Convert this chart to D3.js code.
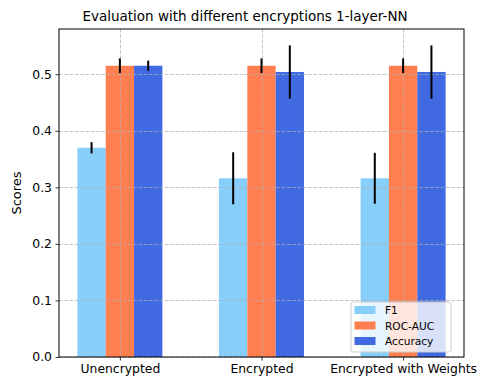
<!DOCTYPE html>
<html><head><meta charset="utf-8">
<script src="https://cdn.jsdelivr.net/npm/d3@7"></script>
<style>body{margin:0;background:#fff}text{font-family:"DejaVu Sans",sans-serif}</style>
</head><body><svg id="c" width="487" height="390"></svg>
<script>
const categories = ["Unencrypted", "Encrypted", "Encrypted with Weights"];
const seriesNames = ["F1", "ROC-AUC", "Accuracy"];
const seriesColors = ["#87CEFA", "#FF7F50", "#4169E1"];
const f1 = [0.370, 0.316, 0.316];
const f1Err = [0.010, 0.046, 0.045];
const rocAuc = [0.515, 0.515, 0.515];
const rocAucErr = [0.013, 0.013, 0.013];
const accuracy = [0.515, 0.504, 0.504];
const accuracyErr = [0.009, 0.047, 0.047];
const yTicks = [0.0, 0.1, 0.2, 0.3, 0.4, 0.5];
const title = "Evaluation with different encryptions 1-layer-NN";
const yLabel = "Scores";

const values = [f1, rocAuc, accuracy];
const errs = [f1Err, rocAucErr, accuracyErr];
const svg = d3.select("#c");
const m = {l: 59, r: 464, t: 29, b: 357};
const x = d3.scaleLinear().domain([-0.43, 2.43]).range([m.l, m.r]);
const y = d3.scaleLinear().domain([0, 0.58]).range([m.b, m.t]);
const bw = 0.2;
const offsets = [-0.2, 0, 0.2];

// bars
seriesNames.forEach((s, si) => {
  svg.append("g").selectAll("rect").data(values[si]).join("rect")
    .attr("x", (d, i) => x(i + offsets[si] - bw / 2))
    .attr("width", (d, i) => x(i + offsets[si] + bw / 2) - x(i + offsets[si] - bw / 2))
    .attr("y", d => y(d)).attr("height", d => y(0) - y(d))
    .attr("fill", seriesColors[si]);
});
// grid
const grid = svg.append("g").attr("stroke", "#b0b0b0").attr("stroke-width", 0.8).attr("stroke-dasharray", "3.7,1.6").attr("opacity", 0.9);
yTicks.forEach(t => grid.append("line").attr("x1", m.l).attr("x2", m.r).attr("y1", Math.round(y(t)) + 0.5).attr("y2", Math.round(y(t)) + 0.5));
categories.forEach((c, i) => grid.append("line").attr("y1", m.t).attr("y2", m.b).attr("x1", Math.round(x(i)) + 0.5).attr("x2", Math.round(x(i)) + 0.5));
// error bars
seriesNames.forEach((s, si) => {
  svg.append("g").selectAll("line").data(values[si]).join("line")
    .attr("x1", (d, i) => x(i + offsets[si])).attr("x2", (d, i) => x(i + offsets[si]))
    .attr("y1", (d, i) => y(d - errs[si][i])).attr("y2", (d, i) => y(d + errs[si][i]))
    .attr("stroke", "#000").attr("stroke-width", 2);
});
// axes
const xAxis = d3.axisBottom(x).tickValues([0, 1, 2]).tickFormat(i => categories[i]).tickSizeOuter(0).tickSize(3.5).tickPadding(3.5);
const gx = svg.append("g").attr("transform", `translate(0,${m.b})`).call(xAxis);
const yAxis = d3.axisLeft(y).tickValues(yTicks).tickFormat(d3.format(".1f")).tickSizeOuter(0).tickSize(3.5).tickPadding(3.5);
const gy = svg.append("g").attr("transform", `translate(${m.l},0)`).call(yAxis);
[gx, gy].forEach(g => {
  g.selectAll("text").attr("font-size", 12.4).attr("fill", "#000").attr("font-family", "DejaVu Sans");
  g.select(".domain").remove();
  g.selectAll(".tick line").attr("stroke", "#000").attr("stroke-width", 0.8);
});
svg.append("rect").attr("x", m.l).attr("y", m.t).attr("width", m.r - m.l).attr("height", m.b - m.t)
  .attr("fill", "none").attr("stroke", "#000").attr("stroke-width", 1);
// title & label
svg.append("text").attr("x", 245).attr("y", 21).attr("text-anchor", "middle")
  .attr("font-size", 13.5).text(title);
svg.append("text").attr("transform", `translate(21,${(m.t + m.b) / 2}) rotate(-90)`).attr("text-anchor", "middle")
  .attr("font-size", 13).text(yLabel);
// legend
const lg = svg.append("g").attr("transform", "translate(351,302)");
lg.append("rect").attr("width", 100).attr("height", 50).attr("rx", 2.5)
  .attr("fill", "#fff").attr("fill-opacity", 0.8).attr("stroke", "#cccccc").attr("stroke-width", 1);
seriesNames.forEach((s, si) => {
  const gy0 = 4 + si * 15.5;
  lg.append("rect").attr("x", 3.5).attr("y", gy0).attr("width", 21).attr("height", 8).attr("fill", seriesColors[si]);
  lg.append("text").attr("x", 34).attr("y", gy0 + 8).attr("font-size", 10.6).text(s);
});
</script></body></html>
